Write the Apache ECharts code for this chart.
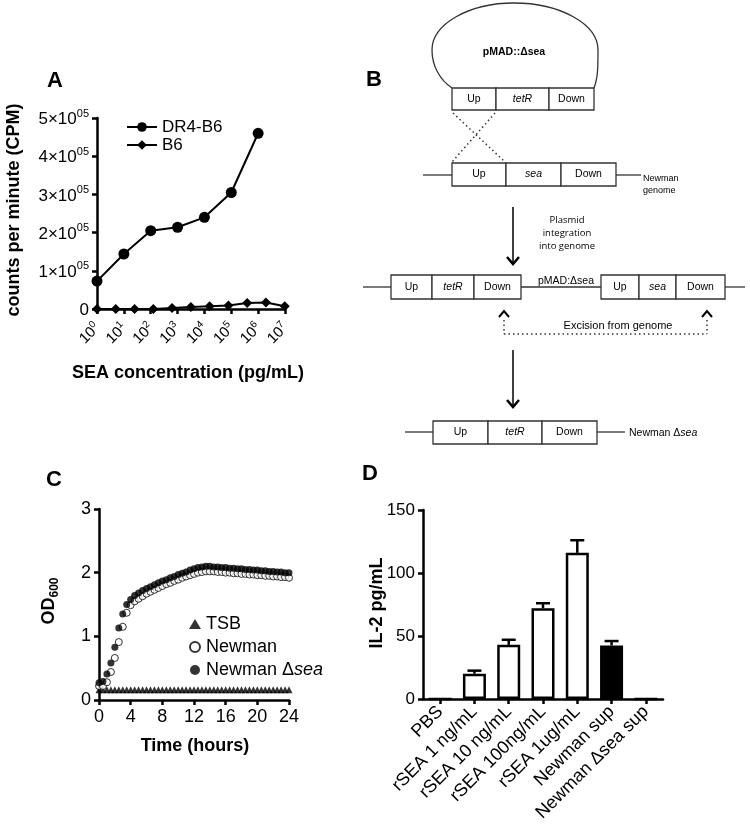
<!DOCTYPE html>
<html><head><meta charset="utf-8">
<script src="https://cdn.jsdelivr.net/npm/echarts@6/dist/echarts.min.js"></script>
<style>html,body{margin:0;padding:0;background:#fff}#c{width:750px;height:835px}</style>
</head><body><div id="c"></div>
<script>
// ---------- Panel A data ----------
const concDR4 = [1, 10, 100, 1000, 10000, 100000, 1000000];
const cpmDR4 = [73000, 144000, 205000, 214000, 240000, 305000, 460000];
const concB6 = [1, 5, 25, 125, 625, 3125, 15625, 78125, 390625, 1953125, 9765625];
const cpmB6 = [0, 0, 0, 0, 2500, 5000, 7000, 9000, 16000, 17000, 7000];
const xTicksA = [1, 10, 100, 1000, 10000, 100000, 1000000, 10000000];

// ---------- Panel C data ----------
const timeH = [0,0.5,1,1.5,2,2.5,3,3.5,4,4.5,5,5.5,6,6.5,7,7.5,8,8.5,9,9.5,10,10.5,11,11.5,12,12.5,13,13.5,14,14.5,15,15.5,16,16.5,17,17.5,18,18.5,19,19.5,20,20.5,21,21.5,22,22.5,23,23.5,24];
const odTSB = [0.16,0.16,0.16,0.16,0.16,0.16,0.16,0.16,0.16,0.16,0.16,0.16,0.16,0.16,0.16,0.16,0.16,0.16,0.16,0.16,0.16,0.16,0.16,0.16,0.16,0.16,0.16,0.16,0.16,0.16,0.16,0.16,0.16,0.16,0.16,0.16,0.16,0.16,0.16,0.16,0.16,0.16,0.16,0.16,0.16,0.16,0.16,0.16,0.16];
const odNewman = [0.22,0.22,0.28,0.44,0.66,0.91,1.15,1.37,1.49,1.55,1.59,1.63,1.67,1.70,1.73,1.76,1.79,1.82,1.84,1.87,1.89,1.92,1.94,1.96,1.98,2.00,2.01,2.02,2.02,2.02,2.01,2.01,2.00,2.00,1.99,1.99,1.98,1.98,1.97,1.97,1.96,1.96,1.95,1.95,1.94,1.94,1.93,1.93,1.92];
const odDelta = [0.27,0.29,0.41,0.58,0.83,1.13,1.35,1.50,1.58,1.64,1.68,1.72,1.75,1.78,1.81,1.84,1.87,1.89,1.92,1.94,1.97,1.99,2.01,2.04,2.06,2.08,2.09,2.10,2.10,2.09,2.09,2.08,2.08,2.07,2.07,2.06,2.06,2.05,2.05,2.04,2.04,2.03,2.03,2.02,2.02,2.01,2.01,2.00,2.00];

// ---------- Panel D data ----------
const catsD = ['PBS', 'rSEA 1 ng/mL', 'rSEA 10 ng/mL', 'rSEA 100ng/mL', 'rSEA 1ug/mL', 'Newman sup', 'Newman \u0394sea sup'];
const il2Mean = [0, 20, 43, 72, 116, 42.5, 0];
const il2Upper = [null, 22.5, 47, 76, 126, 46, null];

// ---------- helpers ----------
const FF = "'Liberation Sans', Arial, Helvetica, sans-serif";
const K = '#000';
const G = '#333';
function pairs(xs, ys) { return xs.map((x, i) => [x, ys[i]]); }

const gfx = [];
function T(x, y, text, o) {
  o = o || {};
  gfx.push({ type: 'text', x: x, y: y, rotation: o.rot || 0, z: 100,
    style: Object.assign({ text: text, fontFamily: o.ff || FF, fontSize: o.size || 11, fontWeight: o.bold ? 'bold' : 'normal',
      fontStyle: o.italic ? 'italic' : 'normal', fill: o.fill || K, align: o.align || 'center', verticalAlign: 'middle' },
      o.rich ? { rich: o.rich } : {}) });
}
function L(x1, y1, x2, y2, o) {
  o = o || {};
  gfx.push({ type: 'line', z: 90, shape: { x1: x1, y1: y1, x2: x2, y2: y2 },
    style: { stroke: o.stroke || G, lineWidth: o.w || 1.3, lineDash: o.dash || null } });
}
function P(pts, w) {
  gfx.push({ type: 'polyline', z: 95, shape: { points: pts }, style: { stroke: K, fill: null, lineWidth: w || 2.5 } });
}
function BX(xs, y1, y2, labels) {
  for (let i = 0; i < labels.length; i++) {
    gfx.push({ type: 'rect', z: 91, shape: { x: xs[i], y: y1, width: xs[i + 1] - xs[i], height: y2 - y1 },
      style: { fill: '#fff', stroke: G, lineWidth: 1.3 } });
    const lab = labels[i];
    T((xs[i] + xs[i + 1]) / 2, (y1 + y2) / 2, lab, { size: 10.5, italic: (lab === 'tetR' || lab === 'sea') });
  }
}
function BZ(x0, y0, c1x, c1y, c2x, c2y, x1, y1) {
  gfx.push({ type: 'bezierCurve', z: 90, shape: { x1: x0, y1: y0, cpx1: c1x, cpy1: c1y, cpx2: c2x, cpy2: c2y, x2: x1, y2: y1 },
    style: { stroke: G, lineWidth: 1.3, fill: null } });
}

// Panel letters
T(55, 81, 'A', { size: 22, bold: true });
T(374, 80, 'B', { size: 22, bold: true });
T(54, 480, 'C', { size: 22, bold: true });
T(370, 474, 'D', { size: 22, bold: true });

// Axis titles
T(14, 210, 'counts per minute (CPM)', { size: 18, bold: true, rot: Math.PI / 2 });
T(188, 373, 'SEA concentration (pg/mL)', { size: 18, bold: true });
T(49, 601, '{a|OD}{b|600}', { size: 18, bold: true, rot: Math.PI / 2,
  rich: { a: { fontSize: 18, fontWeight: 'bold', fontFamily: FF, verticalAlign: 'bottom' }, b: { fontSize: 12, fontWeight: 'bold', fontFamily: FF, verticalAlign: 'bottom', padding: [0, 0, -3, 0] } } });
T(195, 746, 'Time (hours)', { size: 18, bold: true });
T(377, 603, 'IL-2 pg/mL', { size: 18, bold: true, rot: Math.PI / 2 });

// ---------- Panel B diagram ----------
BZ(452, 88, 440, 80, 432, 66, 432, 50);
BZ(432, 50, 432, 24, 469, 3, 514, 3);
BZ(514, 3, 560, 3, 598, 24, 598, 50);
BZ(598, 50, 598, 66, 598, 78, 594, 88);
T(514, 52, 'pMAD::\u0394sea', { size: 10.5, bold: true });
BX([452, 496, 549, 594], 88, 110, ['Up', 'tetR', 'Down']);
L(453, 113, 505, 162, { dash: [1.5, 3], w: 1.5 });
L(495, 113, 452, 162, { dash: [1.5, 3], w: 1.5 });
L(423, 175, 452, 175);
L(616, 175, 641, 175);
BX([452, 506, 561, 616], 163, 186, ['Up', 'sea', 'Down']);
T(643, 179, 'Newman', { size: 9, align: 'left' });
T(643, 191, 'genome', { size: 9, align: 'left' });
L(513, 207, 513, 262, { stroke: K, w: 1.5 });
P([[507, 257], [513, 264], [519, 257]], 2.5);
T(567, 220, 'Plasmid', { size: 9.5, ff: "'Open Sans', sans-serif" });
T(567, 233, 'integration', { size: 9.5, ff: "'Open Sans', sans-serif" });
T(567, 246, 'into genome', { size: 9.5, ff: "'Open Sans', sans-serif" });
L(363, 287, 391, 287);
BX([391, 432, 474, 521], 275, 299, ['Up', 'tetR', 'Down']);
L(521, 287, 601, 287);
T(566, 281, 'pMAD:\u0394sea', { size: 10.5 });
BX([601, 639, 676, 725], 275, 299, ['Up', 'sea', 'Down']);
L(725, 287, 745, 287);
P([[499, 317], [504, 311], [509, 317]], 2);
P([[702, 317], [707, 311], [712, 317]], 2);
L(504, 320, 504, 334, { dash: [1.5, 3], w: 1.5 });
L(707, 320, 707, 334, { dash: [1.5, 3], w: 1.5 });
L(504, 334, 707, 334, { dash: [1.5, 3], w: 1.5 });
T(618, 326, 'Excision from genome', { size: 11 });
L(513, 350, 513, 407, { stroke: K, w: 1.5 });
P([[507, 400], [513, 407], [519, 400]], 2.5);
L(405, 432, 433, 432);
BX([433, 488, 542, 597], 421, 444, ['Up', 'tetR', 'Down']);
L(597, 432, 625, 432);
T(629, 433, '{n|Newman \u0394}{i|sea}', { size: 10.5, align: 'left',
  rich: { n: { fontSize: 10.5, fontFamily: FF }, i: { fontSize: 10.5, fontFamily: FF, fontStyle: 'italic' } } });

// ---------- chart ----------
const axisLineS = { show: true, onZero: false, lineStyle: { color: K, width: 2.5 } };
const tickS = { show: true, inside: false, length: 5, lineStyle: { color: K, width: 2.5 } };
const lab = (size) => ({ color: K, fontFamily: FF, fontSize: size });

const supRichY = {
  b: { fontSize: 17, fontFamily: FF, color: K, verticalAlign: 'bottom', lineHeight: 20 },
  s: { fontSize: 11, fontFamily: FF, color: K, verticalAlign: 'top', lineHeight: 20 }
};
const supRichX = {
  b: { fontSize: 15, fontFamily: FF, color: K, verticalAlign: 'bottom', lineHeight: 17 },
  s: { fontSize: 10, fontFamily: FF, color: K, verticalAlign: 'top', lineHeight: 17 }
};

const chart = echarts.init(document.getElementById('c'), null, { renderer: 'canvas' });
chart.setOption({
  animation: false,
  backgroundColor: '#fff',
  textStyle: { fontFamily: FF, color: K },
  grid: [
    { left: 97, top: 118, width: 188, height: 191, containLabel: false, outerBoundsMode: 'none' },
    { left: 99, top: 509, width: 190, height: 191, containLabel: false, outerBoundsMode: 'none' },
    { left: 423, top: 510, width: 240, height: 189, containLabel: false, outerBoundsMode: 'none' }
  ],
  legend: [
    { data: ['DR4-B6', 'B6'], orient: 'vertical', left: 121, top: 113, itemWidth: 30, itemHeight: 12, itemGap: 0,
      textStyle: { fontSize: 17, fontFamily: FF, color: K, lineHeight: 18 } },
    { data: ['TSB', 'Newman', 'Newman \u0394sea'], orient: 'vertical', left: 184, top: 609, itemWidth: 12, itemHeight: 10, itemGap: 3,
      formatter: (n) => n === 'Newman \u0394sea' ? '{t|Newman \u0394}{i|sea}' : '{t|' + n + '}',
      textStyle: { fontSize: 18, fontFamily: FF, color: K, lineHeight: 20,
        rich: { t: { fontSize: 18, fontFamily: FF, color: K }, i: { fontSize: 18, fontFamily: FF, color: K, fontStyle: 'italic' } } } }
  ],
  xAxis: [
    { gridIndex: 0, type: 'log', logBase: 10, min: 1, max: 10000000,
      axisLine: axisLineS, axisTick: Object.assign({}, tickS, { customValues: xTicksA }), splitLine: { show: false }, minorTick: { show: false },
      axisLabel: { show: true, rotate: 45, margin: 16, hideOverlap: false, customValues: xTicksA,
        formatter: (v) => '{b|10}{s|' + Math.round(Math.log10(v)) + '}', rich: supRichX } },
    { gridIndex: 1, type: 'value', min: 0, max: 24, interval: 4,
      axisLine: axisLineS, axisTick: tickS, splitLine: { show: false },
      axisLabel: Object.assign(lab(18), { margin: 8 }) },
    { gridIndex: 2, type: 'category', data: catsD,
      axisLine: axisLineS, axisTick: Object.assign({}, tickS, { alignWithLabel: true }), splitLine: { show: false },
      axisLabel: Object.assign(lab(18), { rotate: 45, interval: 0, margin: 10, hideOverlap: false }) }
  ],
  yAxis: [
    { gridIndex: 0, type: 'value', min: 0, max: 500000, interval: 100000,
      axisLine: axisLineS, axisTick: tickS, splitLine: { show: false },
      axisLabel: { margin: 8, hideOverlap: false,
        formatter: (v) => v === 0 ? '{b|0}' : '{b|' + (v / 100000) + '\u00d710}{s|05}', rich: supRichY } },
    { gridIndex: 1, type: 'value', min: 0, max: 3, interval: 1,
      axisLine: axisLineS, axisTick: tickS, splitLine: { show: false },
      axisLabel: Object.assign(lab(18), { margin: 8 }) },
    { gridIndex: 2, type: 'value', min: 0, max: 150, interval: 50,
      axisLine: axisLineS, axisTick: tickS, splitLine: { show: false },
      axisLabel: Object.assign(lab(17), { margin: 8 }) }
  ],
  series: [
    { name: 'DR4-B6', type: 'line', xAxisIndex: 0, yAxisIndex: 0, data: pairs(concDR4, cpmDR4),
      symbol: 'circle', symbolSize: 11, lineStyle: { color: K, width: 2 }, itemStyle: { color: K }, z: 5 },
    { name: 'B6', type: 'line', xAxisIndex: 0, yAxisIndex: 0, data: pairs(concB6, cpmB6),
      symbol: 'diamond', symbolSize: 10, lineStyle: { color: K, width: 2 }, itemStyle: { color: K }, z: 4 },

    { name: 'TSB', type: 'scatter', xAxisIndex: 1, yAxisIndex: 1, data: pairs(timeH, odTSB),
      symbol: 'triangle', symbolSize: 7, itemStyle: { color: K }, z: 3 },
    { name: 'Newman', type: 'scatter', xAxisIndex: 1, yAxisIndex: 1, data: pairs(timeH, odNewman),
      symbol: 'circle', symbolSize: 7, itemStyle: { color: '#fff', borderColor: K, borderWidth: 1 }, z: 4 },
    { name: 'Newman \u0394sea', type: 'scatter', xAxisIndex: 1, yAxisIndex: 1, data: pairs(timeH, odDelta),
      symbol: 'circle', symbolSize: 7, itemStyle: { color: K }, z: 5 },

    { name: 'IL-2', type: 'bar', xAxisIndex: 2, yAxisIndex: 2, data: il2Mean, barWidth: 23,
      itemStyle: { color: (p) => p.dataIndex === 5 ? K : '#fff', borderColor: K, borderWidth: 2.5 }, z: 3 },
    { name: 'err', type: 'custom', xAxisIndex: 2, yAxisIndex: 2, z: 4,
      data: il2Mean.map((m, i) => [i, m, il2Upper[i]]).filter((d) => d[2] !== null),
      encode: { x: 0, y: [1, 2] },
      renderItem: (params, api) => {
        const a = api.coord([api.value(0), api.value(1)]);
        const b = api.coord([api.value(0), api.value(2)]);
        return { type: 'group', children: [
          { type: 'line', shape: { x1: a[0], y1: a[1], x2: b[0], y2: b[1] }, style: { stroke: K, lineWidth: 2.5 } },
          { type: 'line', shape: { x1: b[0] - 7, y1: b[1], x2: b[0] + 7, y2: b[1] }, style: { stroke: K, lineWidth: 2.5 } }
        ] };
      } }
  ],
  graphic: { elements: gfx }
});
</script>
</body></html>
